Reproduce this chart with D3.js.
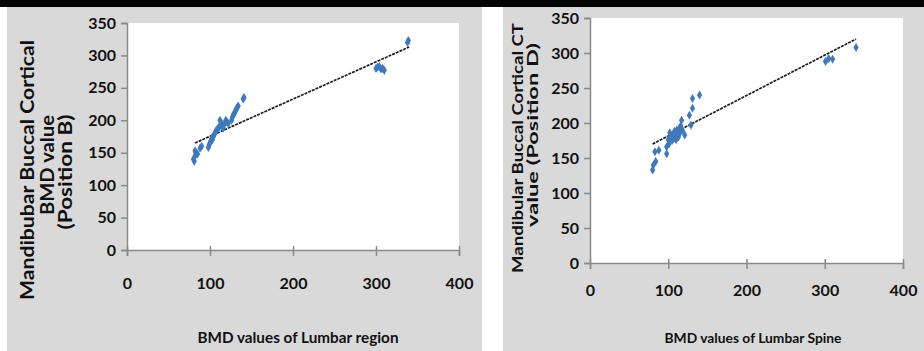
<!DOCTYPE html>
<html>
<head>
<meta charset="utf-8">
<script src="https://cdn.jsdelivr.net/npm/d3@7"></script>
<style>
  body { margin: 0; background: #fff; }
  svg { display: block; }
  text { font-family: Lato, "Open Sans", sans-serif; fill: #111; }
</style>
</head>
<body>
<div id="main"></div>
<script>
// values
var xTicks = [0, 100, 200, 300, 400];
var yTicks = [0, 50, 100, 150, 200, 250, 300, 350];

// left chart: Position B
var leftX = [80, 81, 82, 83, 82, 85, 88, 90,
  98, 99, 100, 101, 102, 103, 104, 105,
  106, 107, 108, 110, 111, 112, 113, 114, 115, 116, 118, 119, 120, 122,
  126, 127, 128, 129, 130, 131, 132, 133, 134,
  140, 141,
  300, 302, 304, 306, 308, 310,
  338, 339];
var leftY = [140, 137, 145, 150, 153, 148, 157, 160,
  158, 162, 165, 168, 172, 170, 175, 178,
  180, 183, 185, 188, 190, 200, 192, 195, 190, 188, 196, 200, 198, 195,
  200, 205, 208, 210, 212, 215, 218, 220, 222,
  233, 235,
  280, 282, 283, 279, 280, 277,
  320, 323];
var leftTrendX = [82, 340];
var leftTrendY = [165, 313];

// right chart: Position D
var rightX = [80, 81, 84, 83, 88, 98, 98, 100, 102, 101,
  103, 105, 106, 107, 108, 109, 110, 111, 112, 113, 114, 115, 116, 118,
  117, 121, 127, 129, 131, 131, 140,
  301, 305, 310, 340];
var rightY = [133, 140, 145, 159, 161, 156, 166, 176, 186, 170,
  180, 175, 184, 178, 188, 182, 176, 190, 185, 180, 192, 186, 196, 190,
  204, 183, 211, 197, 221, 235, 240,
  288, 292, 291, 308];
var rightTrendX = [80, 340];
var rightTrendY = [170, 320];

var W = 924, H = 351;
var svg = d3.select("#main").append("svg").attr("width", W).attr("height", H);

// backgrounds
svg.append("rect").attr("x", 0).attr("y", 0).attr("width", W).attr("height", H).attr("fill", "#fff");
svg.append("rect").attr("x", 7).attr("y", 7).attr("width", 475).attr("height", H - 7).attr("fill", "#d9d9d9");
svg.append("rect").attr("x", 503).attr("y", 7).attr("width", W - 503).attr("height", H - 7).attr("fill", "#d9d9d9");
svg.append("rect").attr("x", 0).attr("y", 0).attr("width", W).attr("height", 7).attr("fill", "#050505");

function drawChart(cfg) {
  var x = d3.scaleLinear().domain([0, 400]).range([cfg.left, cfg.right]);
  var y = d3.scaleLinear().domain([0, 350]).range([cfg.bottom, cfg.top]);
  var g = svg.append("g");

  g.append("rect")
    .attr("x", x(0)).attr("y", y(350))
    .attr("width", x(400) - x(0)).attr("height", y(0) - y(350))
    .attr("fill", "#fff");

  var yAxis = g.append("g")
    .attr("transform", "translate(" + x(0) + ",0)")
    .call(d3.axisLeft(y).tickValues(yTicks).tickSize(6).tickPadding(5));
  var xAxis = g.append("g")
    .attr("transform", "translate(0," + y(0) + ")")
    .call(d3.axisBottom(x).tickValues(xTicks).tickSize(6).tickPadding(cfg.xPad));

  [xAxis, yAxis].forEach(function (a) {
    a.select(".domain").attr("stroke", "#8a8a8a").attr("stroke-width", 1.5);
    a.selectAll(".tick line").attr("stroke", "#8a8a8a").attr("stroke-width", 1.5);
    a.selectAll("text").attr("font-size", 16).attr("font-weight", "bold")
      .attr("font-family", "Lato, sans-serif").attr("fill", "#151515");
  });
  // excel style: x ticks stick out below
  xAxis.selectAll(".tick line").attr("y1", -4);

  // trend line
  g.append("line")
    .attr("x1", x(cfg.trendX[0])).attr("y1", y(cfg.trendY[0]))
    .attr("x2", x(cfg.trendX[1])).attr("y2", y(cfg.trendY[1]))
    .attr("stroke", "#1e1e1e").attr("stroke-width", 1.7)
    .attr("stroke-dasharray", "3,1");

  var pts = cfg.xs.map(function (v, i) { return [v, cfg.ys[i]]; });
  g.append("g").selectAll("path")
    .data(pts)
    .enter().append("path")
    .attr("transform", function (d) { return "translate(" + x(d[0]) + "," + y(d[1]) + ")"; })
    .attr("d", d3.symbol().type(d3.symbolDiamond).size(24))
    .attr("fill", "#3f78bd");

  g.append("text")
    .attr("x", cfg.xTitleX).attr("y", cfg.xTitleY)
    .attr("text-anchor", "middle")
    .attr("font-size", cfg.xTitleSize).attr("font-weight", "bold")
    .attr("textLength", cfg.xTitleLen).attr("lengthAdjust", "spacingAndGlyphs")
    .text(cfg.xTitle);

  // y title, one text per line (rotated)
  cfg.yTitle.forEach(function (line, i) {
    var l = cfg.yLines[i];
    g.append("text")
      .attr("transform", "translate(" + l[0] + "," + l[1] + ") rotate(-90)")
      .attr("text-anchor", "middle")
      .attr("dy", "0.35em")
      .attr("font-size", cfg.yTitleSize).attr("font-weight", "bold")
      .attr("textLength", l[2]).attr("lengthAdjust", "spacingAndGlyphs")
      .text(line);
  });
}

drawChart({
  left: 127, right: 459, top: 23, bottom: 250, xPad: 22,
  xs: leftX, ys: leftY, trendX: leftTrendX, trendY: leftTrendY,
  xTitle: "BMD values of Lumbar region", xTitleX: 298, xTitleY: 343, xTitleSize: 15, xTitleLen: 201,
  yTitle: ["Mandibubar Buccal Cortical", "BMD  value", "(Position B)"],
  yTitleSize: 18,
  yLines: [[28, 170, 260], [48, 165, 100], [66, 172, 115]]
});

drawChart({
  left: 590, right: 903, top: 18, bottom: 263, xPad: 16,
  xs: rightX, ys: rightY, trendX: rightTrendX, trendY: rightTrendY,
  xTitle: "BMD values of Lumbar Spine", xTitleX: 753, xTitleY: 343, xTitleSize: 14, xTitleLen: 177,
  yTitle: ["Mandibular Buccal Cortical CT", "value (Position D)"],
  yTitleSize: 15,
  yLines: [[518, 148, 250], [533, 135, 184]]
});
</script>
</body>
</html>
